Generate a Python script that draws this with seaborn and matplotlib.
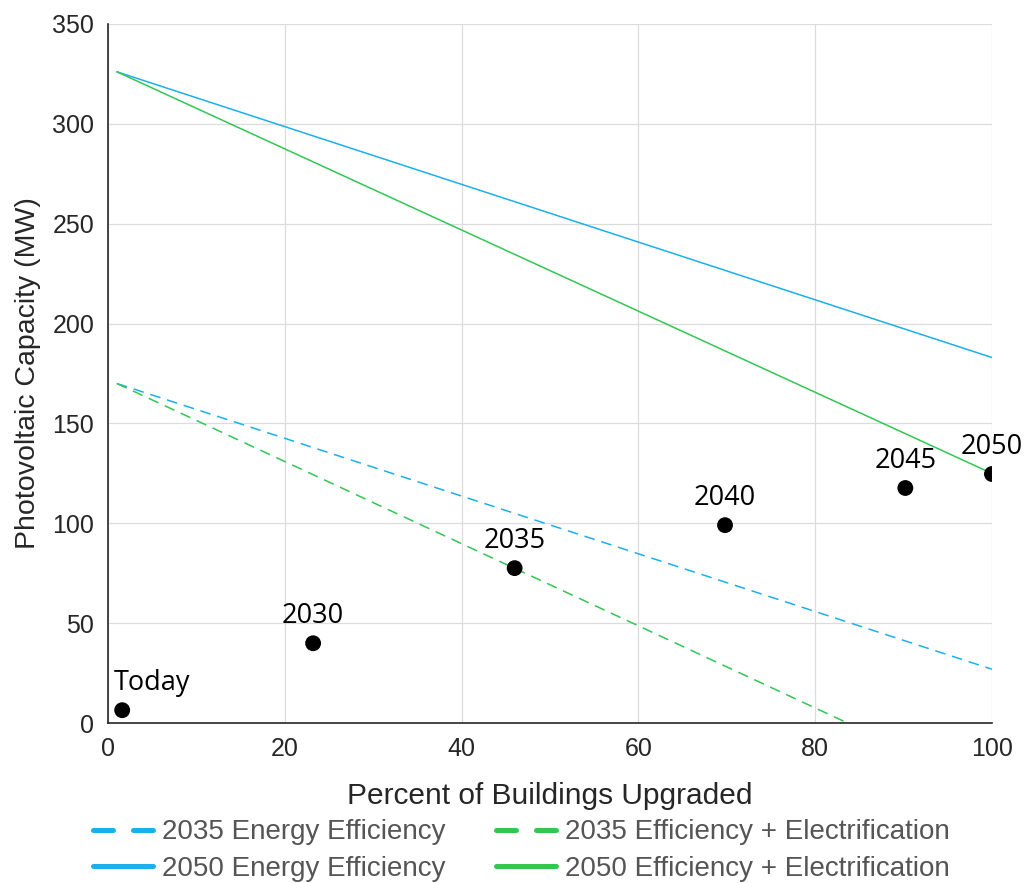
import pandas as pd
import seaborn as sns
import matplotlib.pyplot as plt
from matplotlib.lines import Line2D

# Scenario lines (start and end of each line)
line_x = [1, 100]
ee_2035 = [170, 27]
ee_2050 = [326, 183]
ele_2035 = [170, -33.5]
ele_2050 = [326, 125]

# Milestones
pt_labels = ['Today', '2030', '2035', '2040', '2045', '2050']
pt_x = [1.6, 23.2, 46.0, 69.8, 90.2, 100.0]
pt_y = [6.5, 40, 77.6, 99.1, 117.7, 124.7]

blue = '#1AB0EE'
green = '#33C653'

sns.set_style('white')
plt.rcParams['font.family'] = ['Liberation Sans', 'DejaVu Sans']

fig = plt.figure(figsize=(10.29, 8.83), dpi=100)
ax = fig.add_axes([0.105, 0.181, 0.859, 0.792])

lines = pd.DataFrame({
    'x': line_x * 4,
    'y': ee_2035 + ee_2050 + ele_2035 + ele_2050,
    'series': ['ee35'] * 2 + ['ee50'] * 2 + ['el35'] * 2 + ['el50'] * 2,
})
styles = {
    'ee35': (blue, (7, 4.5)),
    'ee50': (blue, None),
    'el35': (green, (7, 4.5)),
    'el50': (green, None),
}
for key, (col, dash) in styles.items():
    sub = lines[lines['series'] == key]
    l = sns.lineplot(data=sub, x='x', y='y', ax=ax, color=col, linewidth=1.1)
    if dash:
        l.lines[-1].set_dashes(dash)

pts = pd.DataFrame({'x': pt_x, 'y': pt_y, 'label': pt_labels})
sns.scatterplot(data=pts, x='x', y='y', ax=ax, color='black', s=130,
                edgecolor='none', zorder=5)
for lab, x, y in zip(pt_labels, pt_x, pt_y):
    ha = 'left' if lab == 'Today' else 'center'
    xo = -1.0 if lab == 'Today' else 0
    ax.text(x + xo, y + 6.5, lab, ha=ha, va='bottom', fontsize=19.5,
            family=['Open Sans', 'DejaVu Sans'], color='black')

ax.set_xlim(0, 100)
ax.set_ylim(0, 350)
ax.set_xticks(range(0, 101, 20))
ax.set_yticks(range(0, 351, 50))
ax.grid(True, color='#dcdcdc', linewidth=0.9)
ax.set_axisbelow(True)
for s in ['top', 'right']:
    ax.spines[s].set_visible(False)
for s in ['left', 'bottom']:
    ax.spines[s].set_color('#262626')
    ax.spines[s].set_linewidth(1.2)
ax.tick_params(direction='in', length=6, width=1.2, colors='#262626',
               labelsize=18, pad=10)
ax.set_xlabel('Percent of Buildings Upgraded', fontsize=21.5, color='#262626',
              labelpad=15)
ax.set_ylabel('Photovoltaic Capacity (MW)', fontsize=20.5, color='#262626',
              labelpad=8)

handles = [
    Line2D([], [], color=blue, lw=3.6, dashes=(4, 4), dash_capstyle='round'),
    Line2D([], [], color=blue, lw=3.6, solid_capstyle='round'),
    Line2D([], [], color=green, lw=3.6, dashes=(4, 4), dash_capstyle='round'),
    Line2D([], [], color=green, lw=3.6, solid_capstyle='round'),
]
labels = ['2035 Energy Efficiency', '2050 Energy Efficiency',
          '2035 Efficiency + Electrification', '2050 Efficiency + Electrification']
leg = fig.legend(handles, labels, ncol=2, loc='lower left',
                 bbox_to_anchor=(0.066, -0.027), frameon=False, fontsize=20,
                 handlelength=2.15, handletextpad=0.35, columnspacing=1.8,
                 labelspacing=0.38)
for t in leg.get_texts():
    t.set_color('#555555')

fig.savefig('out.png', dpi=100)
